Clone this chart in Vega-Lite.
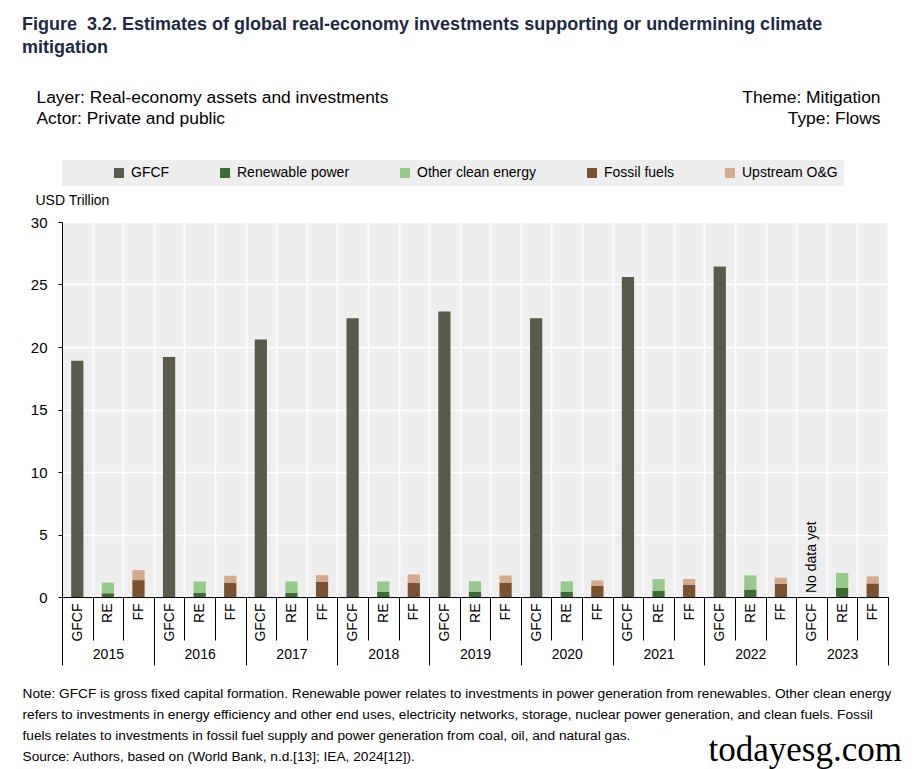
{
  "$schema": "https://vega.github.io/schema/vega-lite/v6.json",
  "autosize": {"type": "none"},
  "width": 826,
  "height": 375,
  "padding": {"left": 62, "top": 222, "right": 28, "bottom": 172},
  "background": "white",
  "title": {
    "text": ["Figure\u00a0 3.2. Estimates of global real-economy investments supporting or undermining climate", "mitigation"],
    "anchor": "start",
    "frame": "group",
    "dx": -40,
    "font": "Liberation Sans",
    "fontSize": 18,
    "fontWeight": "bold",
    "color": "#1e2a45",
    "lineHeight": 23,
    "offset": 31
  },
  "layer": [
    {
      "data": {
        "values": [
          {"year": "2015", "cat": "GFCF", "key": "2015 GFCF", "series": "GFCF", "level": 1, "value": 18.9},
          {"year": "2015", "cat": "RE", "key": "2015 RE", "series": "Renewable power", "level": 1, "value": 0.3},
          {"year": "2015", "cat": "RE", "key": "2015 RE", "series": "Other clean energy", "level": 2, "value": 0.85},
          {"year": "2015", "cat": "FF", "key": "2015 FF", "series": "Fossil fuels", "level": 1, "value": 1.35},
          {"year": "2015", "cat": "FF", "key": "2015 FF", "series": "Upstream O&G", "level": 2, "value": 0.8},
          {"year": "2016", "cat": "GFCF", "key": "2016 GFCF", "series": "GFCF", "level": 1, "value": 19.2},
          {"year": "2016", "cat": "RE", "key": "2016 RE", "series": "Renewable power", "level": 1, "value": 0.35},
          {"year": "2016", "cat": "RE", "key": "2016 RE", "series": "Other clean energy", "level": 2, "value": 0.9},
          {"year": "2016", "cat": "FF", "key": "2016 FF", "series": "Fossil fuels", "level": 1, "value": 1.15},
          {"year": "2016", "cat": "FF", "key": "2016 FF", "series": "Upstream O&G", "level": 2, "value": 0.55},
          {"year": "2017", "cat": "GFCF", "key": "2017 GFCF", "series": "GFCF", "level": 1, "value": 20.6},
          {"year": "2017", "cat": "RE", "key": "2017 RE", "series": "Renewable power", "level": 1, "value": 0.35},
          {"year": "2017", "cat": "RE", "key": "2017 RE", "series": "Other clean energy", "level": 2, "value": 0.9},
          {"year": "2017", "cat": "FF", "key": "2017 FF", "series": "Fossil fuels", "level": 1, "value": 1.2},
          {"year": "2017", "cat": "FF", "key": "2017 FF", "series": "Upstream O&G", "level": 2, "value": 0.55},
          {"year": "2018", "cat": "GFCF", "key": "2018 GFCF", "series": "GFCF", "level": 1, "value": 22.3},
          {"year": "2018", "cat": "RE", "key": "2018 RE", "series": "Renewable power", "level": 1, "value": 0.4},
          {"year": "2018", "cat": "RE", "key": "2018 RE", "series": "Other clean energy", "level": 2, "value": 0.85},
          {"year": "2018", "cat": "FF", "key": "2018 FF", "series": "Fossil fuels", "level": 1, "value": 1.15},
          {"year": "2018", "cat": "FF", "key": "2018 FF", "series": "Upstream O&G", "level": 2, "value": 0.65},
          {"year": "2019", "cat": "GFCF", "key": "2019 GFCF", "series": "GFCF", "level": 1, "value": 22.85},
          {"year": "2019", "cat": "RE", "key": "2019 RE", "series": "Renewable power", "level": 1, "value": 0.43},
          {"year": "2019", "cat": "RE", "key": "2019 RE", "series": "Other clean energy", "level": 2, "value": 0.84},
          {"year": "2019", "cat": "FF", "key": "2019 FF", "series": "Fossil fuels", "level": 1, "value": 1.12},
          {"year": "2019", "cat": "FF", "key": "2019 FF", "series": "Upstream O&G", "level": 2, "value": 0.6},
          {"year": "2020", "cat": "GFCF", "key": "2020 GFCF", "series": "GFCF", "level": 1, "value": 22.3},
          {"year": "2020", "cat": "RE", "key": "2020 RE", "series": "Renewable power", "level": 1, "value": 0.43},
          {"year": "2020", "cat": "RE", "key": "2020 RE", "series": "Other clean energy", "level": 2, "value": 0.82},
          {"year": "2020", "cat": "FF", "key": "2020 FF", "series": "Fossil fuels", "level": 1, "value": 0.88},
          {"year": "2020", "cat": "FF", "key": "2020 FF", "series": "Upstream O&G", "level": 2, "value": 0.45},
          {"year": "2021", "cat": "GFCF", "key": "2021 GFCF", "series": "GFCF", "level": 1, "value": 25.6},
          {"year": "2021", "cat": "RE", "key": "2021 RE", "series": "Renewable power", "level": 1, "value": 0.48},
          {"year": "2021", "cat": "RE", "key": "2021 RE", "series": "Other clean energy", "level": 2, "value": 0.96},
          {"year": "2021", "cat": "FF", "key": "2021 FF", "series": "Fossil fuels", "level": 1, "value": 0.96},
          {"year": "2021", "cat": "FF", "key": "2021 FF", "series": "Upstream O&G", "level": 2, "value": 0.48},
          {"year": "2022", "cat": "GFCF", "key": "2022 GFCF", "series": "GFCF", "level": 1, "value": 26.45},
          {"year": "2022", "cat": "RE", "key": "2022 RE", "series": "Renewable power", "level": 1, "value": 0.6},
          {"year": "2022", "cat": "RE", "key": "2022 RE", "series": "Other clean energy", "level": 2, "value": 1.13},
          {"year": "2022", "cat": "FF", "key": "2022 FF", "series": "Fossil fuels", "level": 1, "value": 1.04},
          {"year": "2022", "cat": "FF", "key": "2022 FF", "series": "Upstream O&G", "level": 2, "value": 0.51},
          {"year": "2023", "cat": "RE", "key": "2023 RE", "series": "Renewable power", "level": 1, "value": 0.72},
          {"year": "2023", "cat": "RE", "key": "2023 RE", "series": "Other clean energy", "level": 2, "value": 1.2},
          {"year": "2023", "cat": "FF", "key": "2023 FF", "series": "Fossil fuels", "level": 1, "value": 1.09},
          {"year": "2023", "cat": "FF", "key": "2023 FF", "series": "Upstream O&G", "level": 2, "value": 0.56}
        ]
      },
      "mark": {"type": "bar", "width": {"band": 0.4}},
      "encoding": {
        "x": {
          "field": "key",
          "type": "nominal",
          "scale": {
            "domain": ["2015 GFCF", "2015 RE", "2015 FF", "2016 GFCF", "2016 RE", "2016 FF", "2017 GFCF", "2017 RE", "2017 FF", "2018 GFCF", "2018 RE", "2018 FF", "2019 GFCF", "2019 RE", "2019 FF", "2020 GFCF", "2020 RE", "2020 FF", "2021 GFCF", "2021 RE", "2021 FF", "2022 GFCF", "2022 RE", "2022 FF", "2023 GFCF", "2023 RE", "2023 FF"],
            "paddingInner": 0,
            "paddingOuter": 0
          },
          "axis": {
            "orient": "bottom",
            "labelExpr": "split(datum.value, ' ')[1]",
            "labelAngle": 270,
            "labelAlign": "right",
            "labelBaseline": "middle",
            "labelFont": "Liberation Sans",
            "labelFontSize": 14,
            "labelColor": "black",
            "labelPadding": -37,
            "tickBand": "extent",
            "tickSize": 43,
            "tickColor": "black",
            "domainColor": "black",
            "grid": true,
            "gridColor": "white",
            "gridWidth": 1.5,
            "title": ["Theme: Mitigation", "Type: Flows"],
            "titleFont": "Liberation Sans",
            "titleFontSize": 17.4,
            "titleFontWeight": "normal",
            "titleColor": "black",
            "titleAlign": "right",
            "titleAnchor": "end",
            "titleBaseline": "alphabetic",
            "titleLineHeight": 21,
            "titleX": 818,
            "titleY": -495
          }
        },
        "y": {
          "field": "value",
          "type": "quantitative",
          "stack": "zero",
          "scale": {"domain": [0, 30], "nice": false},
          "axis": {
            "values": [0, 5, 10, 15, 20, 25, 30],
            "tickSize": 4,
            "tickColor": "black",
            "domainColor": "black",
            "gridColor": "white",
            "gridWidth": 1.5,
            "labelFont": "Liberation Sans",
            "labelFontSize": 15,
            "labelColor": "black",
            "labelPadding": 11,
            "title": "USD Trillion",
            "titleFont": "Liberation Sans",
            "titleFontSize": 14,
            "titleFontWeight": "normal",
            "titleColor": "black",
            "titleAngle": 0,
            "titleAlign": "left",
            "titleBaseline": "alphabetic",
            "titleX": -27,
            "titleY": -18
          }
        },
        "order": {"field": "level", "type": "quantitative", "sort": "ascending"},
        "color": {
          "field": "series",
          "type": "nominal",
          "scale": {
            "domain": ["GFCF", "Renewable power", "Other clean energy", "Fossil fuels", "Upstream O&G"],
            "range": ["#5a5a4c", "#3b6c34", "#98c98c", "#7b5230", "#d3ab8d"]
          },
          "legend": {
            "orient": "none",
            "legendX": 0,
            "legendY": -62,
            "direction": "horizontal",
            "title": "\u00a0",
            "titleOrient": "left",
            "titlePadding": 44,
            "fillColor": "#eeeeee",
            "padding": 6,
            "symbolType": "square",
            "symbolSize": 100,
            "symbolStrokeWidth": 0,
            "labelFont": "Liberation Sans",
            "labelFontSize": 14,
            "labelColor": "black",
            "labelOffset": 5,
            "columnPadding": 48
          }
        }
      }
    },
    {
      "data": {
        "values": [
          {"year": "2015", "note": ""},
          {"year": "2016", "note": ""},
          {"year": "2017", "note": ""},
          {"year": "2018", "note": ""},
          {"year": "2019", "note": ""},
          {"year": "2020", "note": ""},
          {"year": "2021", "note": ""},
          {"year": "2022", "note": ""},
          {"year": "2023", "note": "No data yet"}
        ]
      },
      "mark": {"type": "text", "angle": 270, "align": "left", "baseline": "middle", "dx": 4, "font": "Liberation Sans", "fontSize": 14, "color": "black"},
      "encoding": {
        "x": {
          "field": "year",
          "type": "nominal",
          "bandPosition": 0.1667,
          "scale": {"paddingInner": 0, "paddingOuter": 0},
          "axis": {
            "orient": "bottom",
            "labelAngle": 0,
            "labelFont": "Liberation Sans",
            "labelFontSize": 14,
            "labelColor": "black",
            "labelPadding": -18,
            "tickBand": "extent",
            "tickSize": 68,
            "tickColor": "black",
            "domain": false,
            "grid": false,
            "title": [
              "Note: GFCF is gross fixed capital formation. Renewable power relates to investments in power generation from renewables. Other clean energy",
              "refers to investments in energy efficiency and other end uses, electricity networks, storage, nuclear power generation, and clean fuels. Fossil",
              "fuels relates to investments in fossil fuel supply and power generation from coal, oil, and natural gas.",
              "Source: Authors, based on (World Bank, n.d.[13]; IEA, 2024[12])."
            ],
            "titleFont": "Liberation Sans",
            "titleFontSize": 13.7,
            "titleFontWeight": "normal",
            "titleColor": "black",
            "titleAlign": "left",
            "titleAnchor": "start",
            "titleBaseline": "alphabetic",
            "titleLineHeight": 21.3,
            "titleX": -40,
            "titleY": 100
          }
        },
        "y": {
          "datum": 0,
          "type": "quantitative",
          "scale": {"domain": [0, 30], "nice": false},
          "axis": {
            "orient": "right",
            "domain": false,
            "ticks": false,
            "labels": false,
            "grid": false,
            "title": "todayesg.com",
            "titleFont": "Liberation Serif",
            "titleFontSize": 35,
            "titleFontWeight": "normal",
            "titleColor": "black",
            "titleAngle": 0,
            "titleAlign": "left",
            "titleBaseline": "alphabetic",
            "titleX": -180,
            "titleY": 538
          }
        },
        "text": {"field": "note"}
      }
    },
    {
      "data": {
        "values": [
          {"year": "2015", "note": ""},
          {"year": "2023", "note": ""}
        ]
      },
      "mark": {"type": "text"},
      "encoding": {
        "x": {
          "field": "year",
          "type": "nominal",
          "axis": {
            "orient": "top",
            "labels": false,
            "ticks": false,
            "domain": false,
            "grid": false,
            "title": ["Layer: Real-economy assets and investments", "Actor: Private and public"],
            "titleFont": "Liberation Sans",
            "titleFontSize": 17.4,
            "titleFontWeight": "normal",
            "titleColor": "black",
            "titleAlign": "left",
            "titleAnchor": "start",
            "titleBaseline": "alphabetic",
            "titleLineHeight": 21,
            "titleX": -26,
            "titleY": -120
          }
        },
        "y": {"datum": 0, "type": "quantitative", "scale": {"domain": [0, 30], "nice": false}, "axis": null},
        "text": {"field": "note"}
      }
    }
  ],
  "resolve": {"scale": {"x": "independent", "y": "independent"}, "axis": {"x": "independent", "y": "independent"}},
  "config": {
    "view": {"fill": "#eeeeee", "stroke": null},
    "axis": {"domainWidth": 1, "tickWidth": 1}
  }
}
